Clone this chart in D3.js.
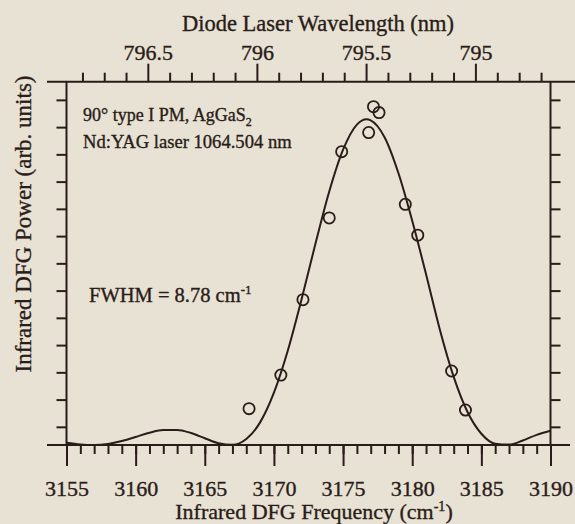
<!DOCTYPE html>
<html><head><meta charset="utf-8">
<script src="https://cdn.jsdelivr.net/npm/d3@7"></script>
<style>
html,body{margin:0;padding:0;background:#e7e2d4;}
svg{display:block;}
text{font-family:"Liberation Serif","Times New Roman",serif;fill:#2a1c19;stroke:#2a1c19;stroke-width:0.35px;}
</style></head>
<body>
<script>
// ---- data ----
const measFreq  = [3168.2, 3170.5, 3172.1, 3174.0, 3174.9, 3176.85, 3177.2, 3177.6, 3179.5, 3180.4, 3182.85, 3183.85];
const measPower = [4.0, 7.7, 16.0, 25.0, 32.3, 34.4, 37.25, 36.6, 26.5, 23.1, 8.15, 3.85];
const fitFreq  = [3155,3156,3157,3158,3159,3160,3161,3162,3163,3164,3165,3166,3167,3168,3169,3170,3171,3172,3173,3174,3175,3176,3176.7,3177,3178,3179,3180,3181,3182,3183,3184,3185,3186,3187,3188,3189,3190];
const fitPower = [0.24,0.06,0.0,0.12,0.44,0.89,1.35,1.65,1.65,1.32,0.75,0.19,0.02,0.65,2.49,5.76,10.38,16.05,22.15,27.91,32.51,35.28,35.86,35.75,33.89,29.95,24.7,18.8,12.7,7.5,3.63,1.24,0.15,0.05,0.5,1.12,1.56];
const bottomMajor = [3155,3160,3165,3170,3175,3180,3185,3190];
const bottomMinor = d3.range(3155,3191,1);
const topMajorNm = [796.5, 796, 795.5, 795];
const topMinorNm = [796.8,796.7,796.6,796.4,796.3,796.2,796.1,795.9,795.8,795.7,795.6,795.4,795.3,795.2,795.1,794.9,794.8,794.7];
const yTicks = [2,5,8,11,14,17,20,23,26,29,32,35,38];
const pumpNm = 1064.504;

const W=575,H=524;
const L=66.5,R=550.5,T=81.7,B=445;
const svg=d3.select("body").append("svg").attr("width",W).attr("height",H);
const ink="#2a1c19";
const x=d3.scaleLinear().domain([3155,3190]).range([L,R]);
const y=d3.scaleLinear().domain([0,40]).range([B,T]);
const nm2freq = nm => 1e7/nm - 1e7/pumpNm;

// frame lines
const g=svg.append("g").attr("stroke",ink).attr("stroke-width",2);
g.append("line").attr("x1",47).attr("x2",575).attr("y1",T).attr("y2",T);
g.append("line").attr("x1",47).attr("x2",570).attr("y1",B).attr("y2",B);
g.append("line").attr("x1",L).attr("x2",L).attr("y1",T).attr("y2",B);
g.append("line").attr("x1",R).attr("x2",R).attr("y1",T).attr("y2",B);

function styleAxis(sel){sel.select(".domain").remove();sel.selectAll("line").attr("stroke",ink).attr("stroke-width",2);}

// bottom axis
svg.append("g").attr("transform",`translate(0,${B})`)
  .call(d3.axisBottom(x).tickValues(bottomMinor).tickSize(9).tickFormat(""))
  .call(styleAxis);
svg.append("g").attr("transform",`translate(0,${B})`)
  .call(d3.axisBottom(x).tickValues(bottomMajor).tickSize(21).tickPadding(14).tickFormat(d3.format("d")))
  .call(styleAxis)
  .selectAll("text").attr("font-size",22).attr("fill",ink);

// top axis (wavelength)
svg.append("g").attr("transform",`translate(0,${T})`)
  .call(d3.axisTop(x).tickValues(topMinorNm.map(nm2freq)).tickSize(9).tickFormat(""))
  .call(styleAxis);
svg.append("g").attr("transform",`translate(0,${T})`)
  .call(d3.axisTop(x).tickValues(topMajorNm.map(nm2freq)).tickSize(18).tickPadding(4).tickFormat((d,i)=>String(topMajorNm[i])))
  .call(styleAxis)
  .selectAll("text").attr("font-size",22).attr("fill",ink);

// left / right ticks
svg.append("g").attr("transform",`translate(${L},0)`)
  .call(d3.axisLeft(y).tickValues(yTicks).tickSize(10).tickFormat(""))
  .call(styleAxis);
svg.append("g").attr("transform",`translate(${R},0)`)
  .call(d3.axisRight(y).tickValues(yTicks).tickSize(10).tickFormat(""))
  .call(styleAxis);

// fit curve
const line=d3.line().x((d,i)=>x(fitFreq[i])).y(d=>y(d)).curve(d3.curveMonotoneX);
svg.append("path").datum(fitPower).attr("d",line).attr("fill","none").attr("stroke",ink).attr("stroke-width",2);

// measured points
svg.append("g").selectAll("circle").data(measPower).join("circle")
  .attr("cx",(d,i)=>x(measFreq[i])).attr("cy",d=>y(d)).attr("r",5.6)
  .attr("fill","none").attr("stroke",ink).attr("stroke-width",1.8);

// titles
svg.append("text").attr("x",318).attr("y",31).attr("text-anchor","middle").attr("font-size",22.5).text("Diode Laser Wavelength (nm)");
const bt=svg.append("text").attr("x",314).attr("y",519).attr("text-anchor","middle").attr("font-size",22);
bt.append("tspan").text("Infrared DFG Frequency (cm");
bt.append("tspan").attr("font-size",14).attr("dy",-8).text("-1");
bt.append("tspan").attr("dy",8).text(")");
svg.append("text").attr("transform","translate(31,224) rotate(-90)").attr("text-anchor","middle").attr("font-size",23).text("Infrared DFG Power (arb. units)");

// annotations
const a1=svg.append("text").attr("x",83).attr("y",121).attr("font-size",18);
a1.append("tspan").text("90° type I PM, AgGaS");
a1.append("tspan").attr("font-size",12).attr("dy",5).text("2");
svg.append("text").attr("x",83).attr("y",148).attr("font-size",18.6).text("Nd:YAG laser 1064.504 nm");
const a3=svg.append("text").attr("x",89).attr("y",302).attr("font-size",20.5);
a3.append("tspan").text("FWHM = 8.78 cm");
a3.append("tspan").attr("font-size",13).attr("dy",-8).text("-1");
</script>
</body></html>
